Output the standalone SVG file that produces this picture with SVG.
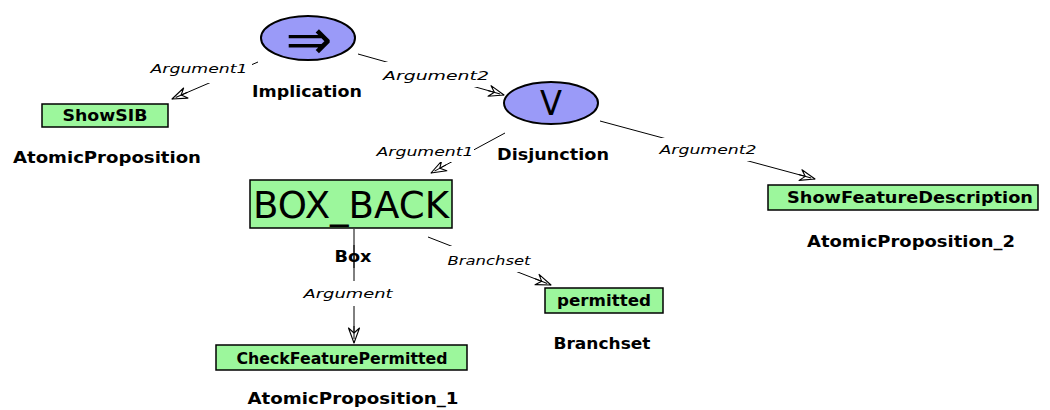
<svg xmlns="http://www.w3.org/2000/svg" width="1050" height="410" viewBox="0 0 1050 410">
  <style>
    .op { fill: #9a9af8; stroke: #000; stroke-width: 2; }
    .atom { fill: #9cf79c; stroke: #000; stroke-width: 1.5; }
    .sym { font-family: "DejaVu Sans", sans-serif; font-size: 34px; fill: #000; text-anchor: middle; }
    .sym-wide { font-size: 56px; }
    .val { font-family: "DejaVu Sans", sans-serif; font-weight: bold; font-size: 15px; fill: #000; text-anchor: middle; }
    .big { font-family: "DejaVu Sans", sans-serif; font-size: 38px; fill: #000; text-anchor: middle; }
    .name { font-family: "DejaVu Sans", sans-serif; font-weight: bold; font-size: 16px; fill: #000; text-anchor: middle; }
    .edge { stroke: #000; stroke-width: 1; fill: none; }
    .role { font-family: "DejaVu Sans", sans-serif; font-style: italic; font-size: 13px; fill: #000; text-anchor: middle; }
    .bg { fill: #fff; }
  </style>
  <defs>
    <!-- open triangular head, the shaft running into it -->
    <marker id="open" viewBox="0 0 18 14" refX="17" refY="7" markerWidth="18" markerHeight="14" markerUnits="userSpaceOnUse" orient="auto">
      <path d="M2,1.5 L17,7 L2,12.5 L7,7 Z" fill="#fff" stroke="#000" stroke-width="1.1" stroke-linejoin="round"/>
      <path d="M0,7 L13,7" stroke="#000" stroke-width="1"/>
    </marker>
  </defs>

  <rect width="1050" height="410" fill="#fff"/>

  <!-- connectors, each with its role label on a white patch -->
  <g id="connectors">
    <line class="edge" x1="258" y1="62" x2="172" y2="99" marker-end="url(#open)"/>
    <line class="edge" x1="358" y1="54" x2="504" y2="95" marker-end="url(#open)"/>
    <line class="edge" x1="505" y1="133" x2="431" y2="173" marker-end="url(#open)"/>
    <line class="edge" x1="600" y1="121" x2="815" y2="179" marker-end="url(#open)"/>
    <line class="edge" x1="354" y1="229" x2="354" y2="343" marker-end="url(#open)"/>
    <line class="edge" x1="428" y1="237" x2="551" y2="285" marker-end="url(#open)"/>

    <rect class="bg" x="146" y="57" width="106" height="26"/>
    <text class="role" x="199" y="73" textLength="97" lengthAdjust="spacingAndGlyphs">Argument1</text>
    <rect class="bg" x="382" y="62" width="96" height="25"/>
    <text class="role" x="436" y="80" textLength="106" lengthAdjust="spacingAndGlyphs">Argument2</text>
    <rect class="bg" x="374" y="141" width="100" height="21"/>
    <text class="role" x="425" y="156" textLength="97" lengthAdjust="spacingAndGlyphs">Argument1</text>
    <rect class="bg" x="656" y="138" width="96" height="23"/>
    <text class="role" x="708" y="154" textLength="97" lengthAdjust="spacingAndGlyphs">Argument2</text>
    <rect class="bg" x="300" y="281" width="96" height="25"/>
    <text class="role" x="348" y="298" textLength="89" lengthAdjust="spacingAndGlyphs">Argument</text>
    <rect class="bg" x="446" y="246" width="86" height="26"/>
    <text class="role" x="489" y="265" textLength="83" lengthAdjust="spacingAndGlyphs">Branchset</text>
  </g>

  <g id="implication">
    <ellipse class="op" cx="308" cy="38" rx="47" ry="22"/>
    <text class="sym sym-wide" x="309" y="59">⇒</text>
    <text class="name" x="307" y="97" textLength="110" lengthAdjust="spacingAndGlyphs">Implication</text>
  </g>

  <g id="disjunction">
    <ellipse class="op" cx="551" cy="103" rx="47" ry="21"/>
    <text class="sym" x="551" y="115" textLength="22" lengthAdjust="spacingAndGlyphs">V</text>
    <text class="name" x="553" y="160" textLength="112" lengthAdjust="spacingAndGlyphs">Disjunction</text>
  </g>

  <g id="atomic-proposition">
    <rect class="atom" x="42" y="104" width="126" height="23"/>
    <text class="val" x="105" y="121" textLength="85" lengthAdjust="spacingAndGlyphs">ShowSIB</text>
    <text class="name" x="107" y="163" textLength="188" lengthAdjust="spacingAndGlyphs">AtomicProposition</text>
  </g>

  <g id="box">
    <rect class="atom" x="250" y="180" width="202" height="48"/>
    <text class="big" x="351" y="218" textLength="196" lengthAdjust="spacingAndGlyphs">BOX_BACK</text>
    <text class="name" x="353" y="262" textLength="37" lengthAdjust="spacingAndGlyphs">Box</text>
  </g>

  <g id="atomic-proposition-2">
    <rect class="atom" x="768" y="185" width="270" height="25"/>
    <text class="val" x="910" y="203" textLength="246" lengthAdjust="spacingAndGlyphs">ShowFeatureDescription</text>
    <text class="name" x="911" y="247" textLength="208" lengthAdjust="spacingAndGlyphs">AtomicProposition_2</text>
  </g>

  <g id="branchset">
    <rect class="atom" x="545" y="288" width="118" height="25"/>
    <text class="val" x="604" y="306" textLength="94" lengthAdjust="spacingAndGlyphs">permitted</text>
    <text class="name" x="602" y="349" textLength="97" lengthAdjust="spacingAndGlyphs">Branchset</text>
  </g>

  <g id="atomic-proposition-1">
    <rect class="atom" x="216" y="345" width="251" height="25"/>
    <text class="val" x="342" y="364" textLength="211" lengthAdjust="spacingAndGlyphs">CheckFeaturePermitted</text>
    <text class="name" x="353" y="404" textLength="211" lengthAdjust="spacingAndGlyphs">AtomicProposition_1</text>
  </g>

  <!-- the Box connector runs over its node's name -->
  <line class="edge" x1="354" y1="245" x2="354" y2="268"/>
</svg>
